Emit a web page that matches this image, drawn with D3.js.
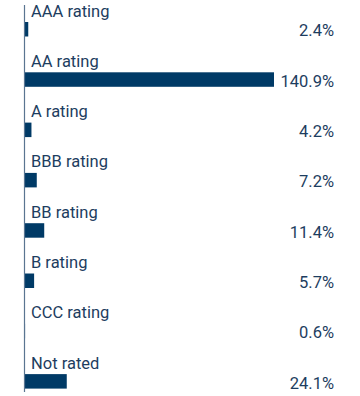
<!DOCTYPE html>
<html><head><meta charset="utf-8">
<script src="https://cdn.jsdelivr.net/npm/d3@7"></script>
<style>body{margin:0;background:#fff}svg{display:block}</style>
</head><body>
<svg id="c" width="360" height="396"></svg>
<script>
const categories = ["AAA rating","AA rating","A rating","BBB rating","BB rating","B rating","CCC rating","Not rated"];
const values = [2.4,140.9,4.2,7.2,11.4,5.7,0.6,24.1];
const valueLabels = ["2.4%","140.9%","4.2%","7.2%","11.4%","5.7%","0.6%","24.1%"];

const svg = d3.select("#c");
const x = d3.scaleLinear().domain([0,140.9]).range([24,274]);
const y = d3.scaleBand().domain(categories).range([22,388.6]).paddingInner(0.712).paddingOuter(0);
const barColor = "#003a66", textColor = "#1d3d60";
const font = "Roboto, 'Noto Sans', sans-serif";

svg.selectAll("rect.bar").data(categories).join("rect")
  .attr("class","bar")
  .attr("x", x(0))
  .attr("y", d=>y(d))
  .attr("width", (d,i)=>Math.max(0,x(values[i])-x(0)))
  .attr("height", y.bandwidth())
  .attr("fill", barColor);

svg.selectAll("text.cat").data(categories).join("text")
  .attr("class","cat")
  .attr("x", 31)
  .attr("y", d=>y(d)-5.5)
  .attr("font-family", font).attr("font-size", 16.5).attr("fill", textColor)
  .text(d=>d);

svg.selectAll("text.val").data(categories).join("text")
  .attr("class","val")
  .attr("x", 334)
  .attr("y", d=>y(d)+y.bandwidth())
  .attr("text-anchor","end")
  .attr("font-family", font).attr("font-size", 16.5).attr("fill", textColor)
  .text((d,i)=>valueLabels[i]);

svg.append("line").attr("x1",24.5).attr("x2",24.5).attr("y1",5).attr("y2",392)
  .attr("stroke","#5a7591").attr("stroke-width",1.2);
</script>
</body></html>
